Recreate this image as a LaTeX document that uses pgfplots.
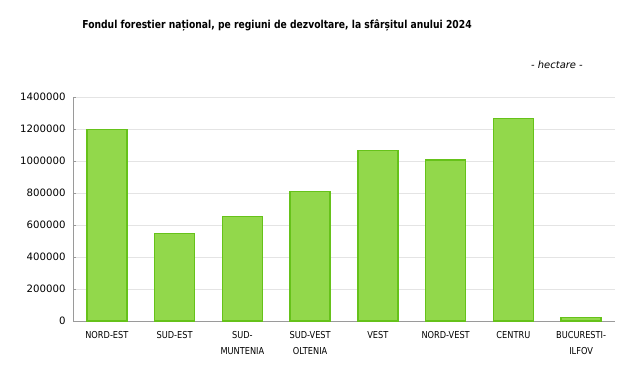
\documentclass[border=0pt]{standalone}
\usepackage{pgfplots}
\pgfplotsset{compat=1.18}
\usepackage{fontspec}
\setmainfont{DejaVu Sans}
\newfontfamily\condfont{DejaVu Sans}[FakeStretch=0.86]
\newfontfamily\titlefont{DejaVu Sans}[FakeStretch=0.84]
\definecolor{barfill}{HTML}{92D84B}
\definecolor{baredge}{HTML}{66C21A}
\definecolor{axgray}{HTML}{9A9A9A}
\definecolor{gridgray}{HTML}{E4E4E4}
\begin{document}
\begin{tikzpicture}[x=1bp,y=1bp]
\path[use as bounding box] (0,0) rectangle (630,374);
\begin{axis}[
  at={(73bp,53bp)}, anchor=south west,
  scale only axis, width=542bp, height=224bp,
  xmin=-0.5, xmax=7.5, ymin=0, ymax=1400000,
  axis x line*=bottom, axis y line*=left,
  x axis line style={draw=axgray}, y axis line style={draw=axgray},
  ytick={0,200000,...,1400000},
  scaled y ticks=false,
  yticklabel style={font=\fontsize{10.2}{11}\selectfont, /pgf/number format/fixed, /pgf/number format/1000 sep={}, xshift=-4bp},
  /pgf/number format/assume math mode=true,
  ymajorgrids, grid style={draw=gridgray, line width=0.7pt},
  major tick length=3bp,
  ytick style={draw=axgray},
  xtick={0,...,7},
  xticklabels={NORD-EST,SUD-EST,SUD-\\MUNTENIA,SUD-VEST\\OLTENIA,VEST,NORD-VEST,CENTRU,BUCURESTI-\\ILFOV},
  xticklabel style={font=\condfont\fontsize{9.6}{16}\selectfont, align=center, anchor=north, yshift=-7bp},
  major x tick style={draw=none},
  extra x ticks={-0.5,0.5,1.5,2.5,3.5,4.5,5.5,6.5,7.5},
  extra x tick labels={},
  extra x tick style={tick style={draw=axgray}, tick align=outside, major tick length=2.5bp, xmajorgrids=false},
  clip=false,
]
\addplot[ybar, bar width=40bp, fill=barfill, draw=baredge, line width=1.3pt] coordinates {
 (0,1196000) (1,548000) (2,654000) (3,811000) (4,1065000) (5,1007000) (6,1264000) (7,24000)
};
\end{axis}
\node[font=\titlefont\bfseries\fontsize{11}{13}\selectfont] at (277,349) {Fondul forestier național, pe regiuni de dezvoltare, la sfârșitul anului 2024};
\node[font=\itshape\fontsize{10}{12}\selectfont] at (557,309) {- hectare -};
\end{tikzpicture}
\end{document}
